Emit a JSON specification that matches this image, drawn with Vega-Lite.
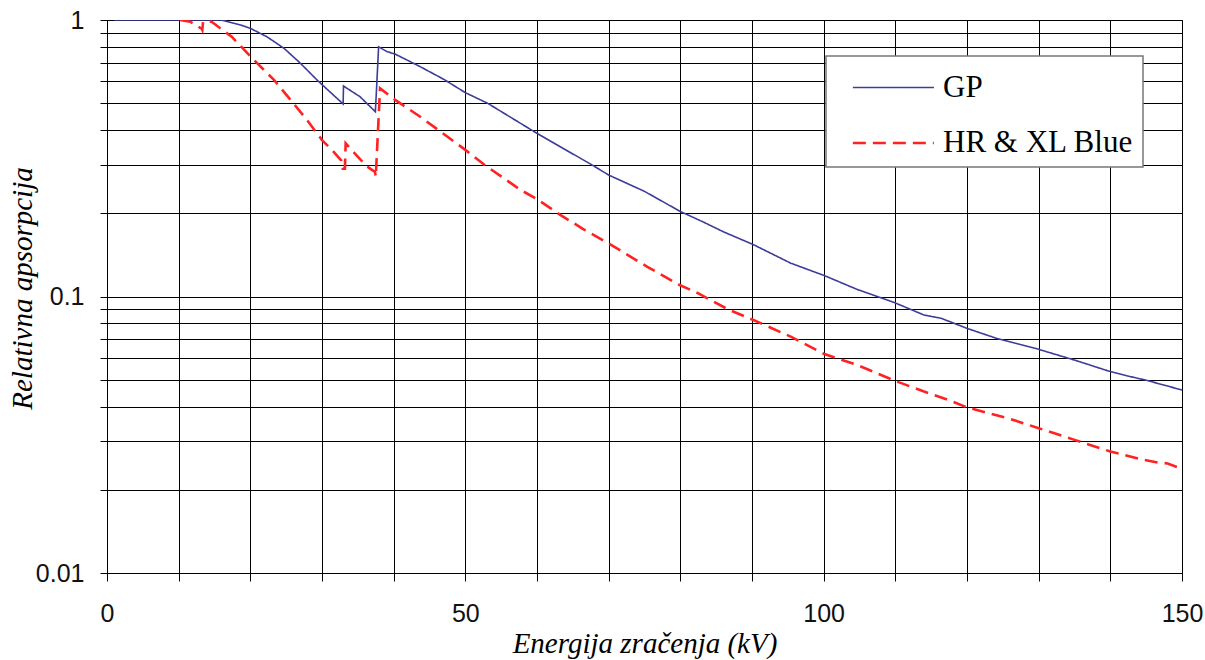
{
  "$schema": "https://vega.github.io/schema/vega-lite/v6.json",
  "width": 1075,
  "height": 553,
  "autosize": {"type": "none"},
  "padding": {"left": 107, "top": 20, "right": 23, "bottom": 87},
  "background": "white",
  "config": {
    "view": {"stroke": "#000", "strokeWidth": 1},
    "axis": {
      "gridColor": "#000", "gridOpacity": 1, "gridWidth": 1,
      "domainColor": "#000", "domainWidth": 1,
      "tickColor": "#000", "tickWidth": 1,
      "labelFont": "Liberation Sans", "labelFontSize": 25, "labelColor": "#111",
      "titleFont": "Liberation Serif", "titleFontStyle": "italic", "titleFontWeight": "normal",
      "titleFontSize": 29, "titleColor": "#000"
    },
    "legend": {
      "orient": "none", "legendX": 719, "legendY": 36,
      "symbolType": "M-0.24,0H3.53", "symbolSize": 1849, "symbolStrokeWidth": 2,
      "labelFont": "Liberation Serif", "labelFontSize": 31, "labelColor": "#000",
      "labelOffset": 62, "rowPadding": 17, "padding": 9, "labelLimit": 400,
      "strokeColor": "#777", "fillColor": "#fff", "strokeWidth": 1.5
    }
  },
  "data": {
    "values": [
      {"s": "GP", "e": 1, "v": 1.0},
      {"s": "GP", "e": 16, "v": 1.0},
      {"s": "GP", "e": 18.6, "v": 0.96},
      {"s": "GP", "e": 20, "v": 0.933},
      {"s": "GP", "e": 22.3, "v": 0.87},
      {"s": "GP", "e": 24.7, "v": 0.79},
      {"s": "GP", "e": 27, "v": 0.697},
      {"s": "GP", "e": 29.3, "v": 0.607},
      {"s": "GP", "e": 31.6, "v": 0.535},
      {"s": "GP", "e": 32.95, "v": 0.497},
      {"s": "GP", "e": 33.0, "v": 0.577},
      {"s": "GP", "e": 35.3, "v": 0.528},
      {"s": "GP", "e": 37.45, "v": 0.466},
      {"s": "GP", "e": 37.9, "v": 0.80},
      {"s": "GP", "e": 39.1, "v": 0.768},
      {"s": "GP", "e": 40.2, "v": 0.753},
      {"s": "GP", "e": 43.7, "v": 0.678},
      {"s": "GP", "e": 47, "v": 0.61},
      {"s": "GP", "e": 50, "v": 0.546},
      {"s": "GP", "e": 53.1, "v": 0.50},
      {"s": "GP", "e": 57.7, "v": 0.423},
      {"s": "GP", "e": 60, "v": 0.389},
      {"s": "GP", "e": 63.5, "v": 0.345},
      {"s": "GP", "e": 67.5, "v": 0.301},
      {"s": "GP", "e": 70, "v": 0.275},
      {"s": "GP", "e": 75, "v": 0.240},
      {"s": "GP", "e": 80, "v": 0.203},
      {"s": "GP", "e": 83, "v": 0.187},
      {"s": "GP", "e": 86.1, "v": 0.171},
      {"s": "GP", "e": 90.2, "v": 0.154},
      {"s": "GP", "e": 95.4, "v": 0.132},
      {"s": "GP", "e": 100.1, "v": 0.119},
      {"s": "GP", "e": 104.7, "v": 0.106},
      {"s": "GP", "e": 109.9, "v": 0.095},
      {"s": "GP", "e": 114, "v": 0.0857},
      {"s": "GP", "e": 116.4, "v": 0.0834},
      {"s": "GP", "e": 120, "v": 0.0767},
      {"s": "GP", "e": 124.1, "v": 0.0706},
      {"s": "GP", "e": 130, "v": 0.0644},
      {"s": "GP", "e": 135, "v": 0.0589},
      {"s": "GP", "e": 140, "v": 0.0535},
      {"s": "GP", "e": 142.4, "v": 0.0516},
      {"s": "GP", "e": 145, "v": 0.0498},
      {"s": "GP", "e": 150, "v": 0.0459},
      {"s": "HR & XL Blue", "e": 10.2, "v": 1.0},
      {"s": "HR & XL Blue", "e": 11.6, "v": 0.986},
      {"s": "HR & XL Blue", "e": 13.2, "v": 0.93},
      {"s": "HR & XL Blue", "e": 13.3, "v": 0.92},
      {"s": "HR & XL Blue", "e": 13.4, "v": 0.985},
      {"s": "HR & XL Blue", "e": 14.6, "v": 0.985},
      {"s": "HR & XL Blue", "e": 15.8, "v": 0.933},
      {"s": "HR & XL Blue", "e": 17.4, "v": 0.87},
      {"s": "HR & XL Blue", "e": 20.5, "v": 0.717},
      {"s": "HR & XL Blue", "e": 23.3, "v": 0.607},
      {"s": "HR & XL Blue", "e": 26, "v": 0.50},
      {"s": "HR & XL Blue", "e": 27.9, "v": 0.435},
      {"s": "HR & XL Blue", "e": 30, "v": 0.368},
      {"s": "HR & XL Blue", "e": 31.6, "v": 0.334},
      {"s": "HR & XL Blue", "e": 32.7, "v": 0.31},
      {"s": "HR & XL Blue", "e": 32.9, "v": 0.29},
      {"s": "HR & XL Blue", "e": 33.2, "v": 0.29},
      {"s": "HR & XL Blue", "e": 33.3, "v": 0.358},
      {"s": "HR & XL Blue", "e": 35.4, "v": 0.312},
      {"s": "HR & XL Blue", "e": 36.3, "v": 0.295},
      {"s": "HR & XL Blue", "e": 37.4, "v": 0.282},
      {"s": "HR & XL Blue", "e": 37.5, "v": 0.271},
      {"s": "HR & XL Blue", "e": 38.1, "v": 0.566},
      {"s": "HR & XL Blue", "e": 40.2, "v": 0.514},
      {"s": "HR & XL Blue", "e": 43.7, "v": 0.447},
      {"s": "HR & XL Blue", "e": 50, "v": 0.339},
      {"s": "HR & XL Blue", "e": 52.7, "v": 0.299},
      {"s": "HR & XL Blue", "e": 57.7, "v": 0.243},
      {"s": "HR & XL Blue", "e": 60, "v": 0.225},
      {"s": "HR & XL Blue", "e": 63.3, "v": 0.197},
      {"s": "HR & XL Blue", "e": 66.5, "v": 0.175},
      {"s": "HR & XL Blue", "e": 70.1, "v": 0.155},
      {"s": "HR & XL Blue", "e": 75.4, "v": 0.128},
      {"s": "HR & XL Blue", "e": 79.9, "v": 0.110},
      {"s": "HR & XL Blue", "e": 82.4, "v": 0.103},
      {"s": "HR & XL Blue", "e": 86.6, "v": 0.090},
      {"s": "HR & XL Blue", "e": 90.2, "v": 0.0822},
      {"s": "HR & XL Blue", "e": 95.4, "v": 0.0716},
      {"s": "HR & XL Blue", "e": 100.1, "v": 0.0619},
      {"s": "HR & XL Blue", "e": 104.7, "v": 0.0565},
      {"s": "HR & XL Blue", "e": 109.9, "v": 0.0496},
      {"s": "HR & XL Blue", "e": 114, "v": 0.0453},
      {"s": "HR & XL Blue", "e": 117.8, "v": 0.0419},
      {"s": "HR & XL Blue", "e": 120, "v": 0.0397},
      {"s": "HR & XL Blue", "e": 125.7, "v": 0.0363},
      {"s": "HR & XL Blue", "e": 130, "v": 0.0334},
      {"s": "HR & XL Blue", "e": 135, "v": 0.0303},
      {"s": "HR & XL Blue", "e": 140, "v": 0.0275},
      {"s": "HR & XL Blue", "e": 144.3, "v": 0.0258},
      {"s": "HR & XL Blue", "e": 146.6, "v": 0.0251},
      {"s": "HR & XL Blue", "e": 148, "v": 0.0249},
      {"s": "HR & XL Blue", "e": 150, "v": 0.0238}
    ]
  },
  "mark": {"type": "line", "clip": true},
  "encoding": {
    "x": {
      "field": "e", "type": "quantitative",
      "scale": {"domain": [0, 150], "nice": false},
      "axis": {
        "values": [0, 10, 20, 30, 40, 50, 60, 70, 80, 90, 100, 110, 120, 130, 140, 150],
        "labelExpr": "datum.value % 50 == 0 ? datum.label : ''",
        "tickSize": 8, "labelPadding": 20, "labelFlush": false, "labelOverlap": false,
        "title": "Energija zračenja (kV)", "titleBaseline": "alphabetic", "titleY": 79
      }
    },
    "y": {
      "field": "v", "type": "quantitative",
      "scale": {"type": "log", "domain": [0.01, 1], "nice": false},
      "axis": {
        "values": [0.01, 0.02, 0.03, 0.04, 0.05, 0.06, 0.07, 0.08, 0.09, 0.1, 0.2, 0.3, 0.4, 0.5, 0.6, 0.7, 0.8, 0.9, 1],
        "labelExpr": "datum.value == 1 ? '1' : datum.value == 0.1 ? '0.1' : datum.value == 0.01 ? '0.01' : ''",
        "tickSize": 7, "labelPadding": 16, "labelOverlap": false, "labelFlush": false,
        "title": "Relativna apsorpcija", "titleX": -76, "titleY": 268,
        "titleBaseline": "alphabetic", "titleAlign": "center"
      }
    },
    "color": {
      "field": "s", "type": "nominal",
      "scale": {"domain": ["GP", "HR & XL Blue"], "range": ["#3c3c9a", "#ff2222"]},
      "legend": {"title": null}
    },
    "strokeDash": {
      "field": "s", "type": "nominal",
      "scale": {"domain": ["GP", "HR & XL Blue"], "range": [[1, 0], [13, 7]]},
      "legend": {"title": null}
    },
    "strokeWidth": {
      "field": "s", "type": "nominal",
      "scale": {"domain": ["GP", "HR & XL Blue"], "range": [1.6, 2.6]},
      "legend": null
    }
  }
}
